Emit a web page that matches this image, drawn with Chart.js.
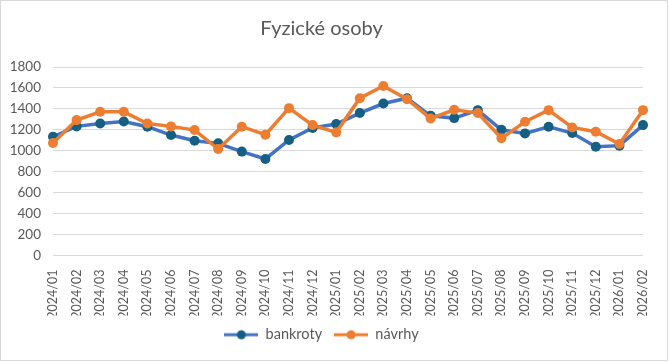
<!DOCTYPE html>
<html>
<head>
<meta charset="utf-8">
<script src="https://cdn.jsdelivr.net/npm/chart.js@4"></script>
<style>
html,body{margin:0;padding:0;background:#fff;}
#wrap{position:absolute;left:0;top:0;width:670px;height:363px;}
</style>
</head>
<body>
<div id="wrap"><canvas id="c" width="670" height="363"></canvas></div>
<script>
const categories = ["2024/01","2024/02","2024/03","2024/04","2024/05","2024/06","2024/07","2024/08","2024/09","2024/10","2024/11","2024/12","2025/01","2025/02","2025/03","2025/04","2025/05","2025/06","2025/07","2025/08","2025/09","2025/10","2025/11","2025/12","2026/01","2026/02"];
const bankroty = [1134,1233,1261,1280,1230,1150,1096,1071,992,922,1103,1217,1255,1360,1451,1502,1334,1312,1388,1201,1166,1230,1169,1039,1049,1245];
const navrhy = [1074,1293,1372,1372,1261,1233,1198,1017,1230,1154,1407,1245,1176,1502,1619,1493,1309,1391,1360,1119,1277,1388,1223,1182,1065,1388];
const yTicks = {min:0, max:1800, step:200};
const titleText = "Fyzické osoby";
const seriesNames = ["bankroty","návrhy"];

const FONT = "Lato, 'Open Sans', 'DejaVu Sans', sans-serif";
const TXT = "#595959";
const BLUE_LINE = "#4472C4", BLUE_MARK = "#156082", ORANGE = "#ED7D31";

function legendIcon(lineColor, markColor){
  const cv = document.createElement('canvas');
  cv.width = 34; cv.height = 12;
  const g = cv.getContext('2d');
  g.strokeStyle = lineColor; g.lineWidth = 3;
  g.beginPath(); g.moveTo(0,6); g.lineTo(34,6); g.stroke();
  g.fillStyle = markColor; g.beginPath(); g.arc(17,6,4.5,0,Math.PI*2); g.fill();
  return cv;
}
const iconBlue = legendIcon(BLUE_LINE, BLUE_MARK);
const iconOrange = legendIcon(ORANGE, ORANGE);

const borderPlugin = {
  id:'frame',
  beforeDraw(chart){
    const ctx = chart.ctx;
    ctx.save();
    ctx.fillStyle = '#fff';
    ctx.fillRect(0,0,chart.width,chart.height);
    ctx.strokeStyle = '#d9d9d9'; ctx.lineWidth = 1;
    ctx.strokeRect(0.5,0.5,chart.width-3,chart.height-3);
    ctx.restore();
  }
};

new Chart(document.getElementById('c'), {
  type:'line',
  data:{
    labels: categories,
    datasets:[
      {label: seriesNames[0], data: bankroty, borderColor: BLUE_LINE, backgroundColor: BLUE_MARK,
       pointBackgroundColor: BLUE_MARK, pointBorderColor: BLUE_MARK, pointRadius: 5, pointBorderWidth: 0,
       borderWidth: 3.5, tension: 0, order: 1, pointStyle: 'circle'},
      {label: seriesNames[1], data: navrhy, borderColor: ORANGE, backgroundColor: ORANGE,
       pointBackgroundColor: ORANGE, pointBorderColor: ORANGE, pointRadius: 5, pointBorderWidth: 0,
       borderWidth: 3.5, tension: 0, order: 0, pointStyle: 'circle'}
    ]
  },
  options:{
    responsive:false, animation:false, devicePixelRatio:1,
    layout:{padding:{left:0,right:27,top:0,bottom:11}},
    plugins:{
      title:{display:true, text:titleText, color:TXT, font:{family:FONT,size:20,weight:'normal'}, padding:{top:17,bottom:26}},
      legend:{position:'bottom',
        labels:{color:TXT, font:{family:FONT,size:14.5}, usePointStyle:true, pointStyleWidth:34, padding:12,
          sort:(a,b)=>a.datasetIndex-b.datasetIndex,
          generateLabels:(chart)=>{
            const base = Chart.defaults.plugins.legend.labels.generateLabels(chart);
            base.forEach(l=>{ l.pointStyle = l.datasetIndex===0 ? iconBlue : iconOrange; });
            return base;
          }}},
      tooltip:{enabled:false}
    },
    scales:{
      x:{grid:{display:false}, border:{display:false},
         ticks:{color:TXT, font:{family:FONT,size:12.5}, minRotation:90, maxRotation:90, padding:6, autoSkip:false},
         afterFit:(s)=>{s.height=60;}},
      y:{min:yTicks.min, max:yTicks.max,
         grid:{color:'#d9d9d9', lineWidth:1, drawTicks:false}, border:{display:false},
         ticks:{stepSize:yTicks.step, color:TXT, font:{family:FONT,size:13.5}, padding:12,
                callback:(v)=>String(v)},
         afterFit:(s)=>{s.width=53;}}
    }
  },
  plugins:[borderPlugin]
});
</script>
</body>
</html>
